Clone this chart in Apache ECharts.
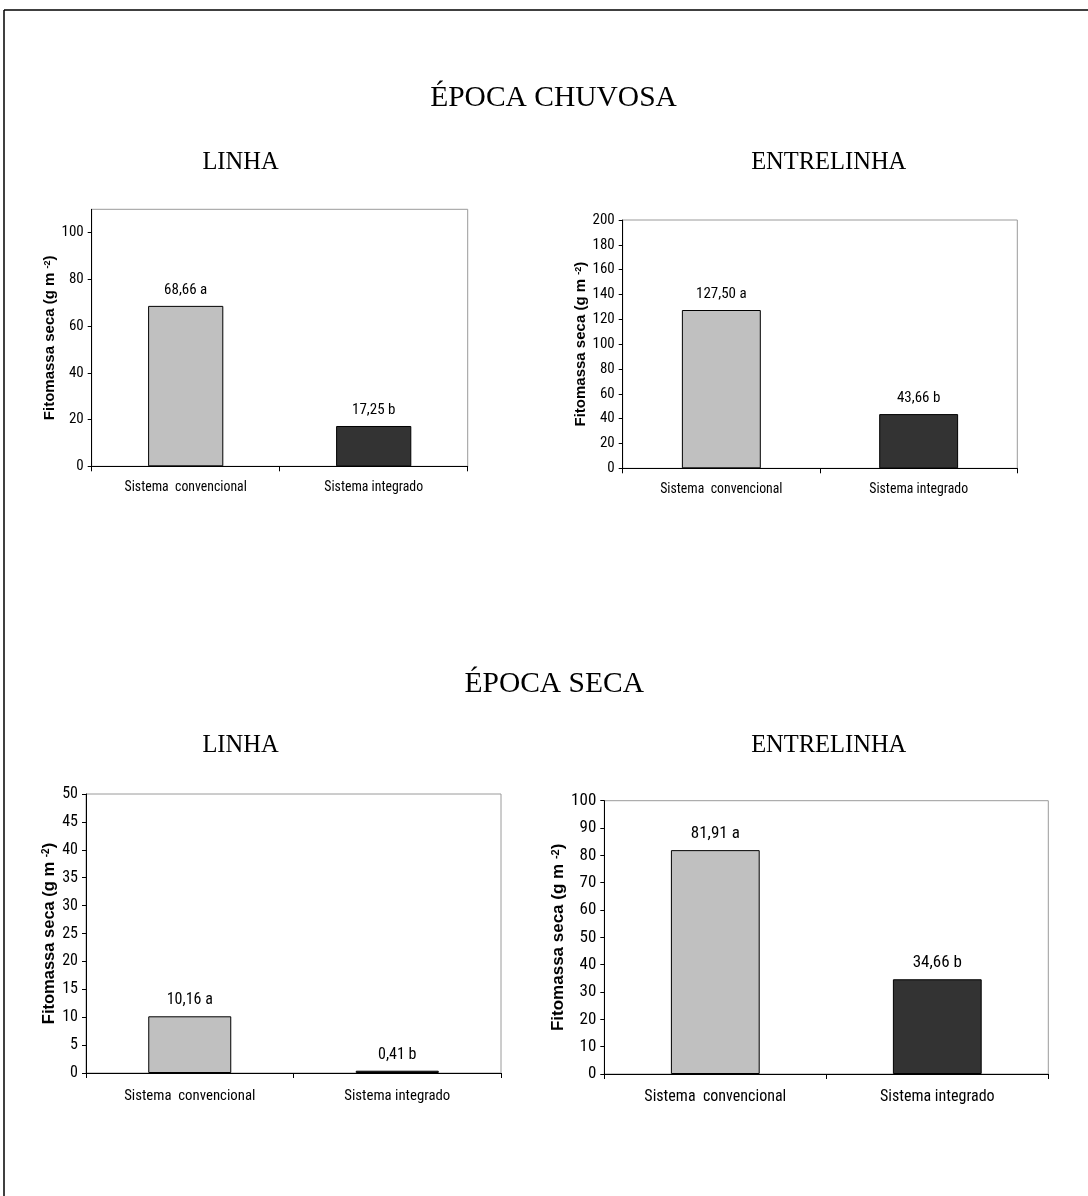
<!DOCTYPE html>
<html>
<head>
<meta charset="utf-8">
<script src="https://cdn.jsdelivr.net/npm/echarts@6/dist/echarts.min.js"></script>
<style>
html,body{margin:0;padding:0;background:#fff;}
#c{width:1088px;height:1196px;}
</style>
</head>
<body>
<div id="c"></div>
<script>
// ---- data ----
const categories = ['Sistema  convencional', 'Sistema integrado'];
const letters = ['a', 'b'];
const chuvosaLinha = [68.66, 17.25];
const chuvosaEntrelinha = [127.50, 43.66];
const secaLinha = [10.16, 0.41];
const secaEntrelinha = [81.91, 34.66];
const ticksChuvosaLinha = [0, 20, 40, 60, 80, 100];
const ticksChuvosaEntrelinha = [0, 20, 40, 60, 80, 100, 120, 140, 160, 180, 200];
const ticksSecaLinha = [0, 5, 10, 15, 20, 25, 30, 35, 40, 45, 50];
const ticksSecaEntrelinha = [0, 10, 20, 30, 40, 50, 60, 70, 80, 90, 100];
const titles = ['ÉPOCA CHUVOSA', 'ÉPOCA SECA'];
const subtitles = ['LINHA', 'ENTRELINHA'];
const yName = ['Fitomassa seca (g m ', '-2', ')'];

// ---- layout / style ----
const NARROW = "'Liberation Sans Narrow', 'Arial Narrow', 'Roboto Condensed', sans-serif";
const SANS = "'Liberation Sans', Arial, sans-serif";
const SERIF = "'Liberation Serif', 'Times New Roman', serif";
const barColors = ['#c0c0c0', '#333333'];

const panels = [
  {values: chuvosaLinha, ticks: ticksChuvosaLinha, max: 110,
   grid: {left: 91.7, top: 209.3, width: 376, height: 257}, fs: 15, cfs: 13.8, nfs: 15, nameGap: 32, lblMargin: 14},
  {values: chuvosaEntrelinha, ticks: ticksChuvosaEntrelinha, max: 200,
   grid: {left: 622.7, top: 220, width: 394.6, height: 248.3}, fs: 15, cfs: 13.8, nfs: 15, nameGap: 34, lblMargin: 14},
  {values: secaLinha, ticks: ticksSecaLinha, max: 50,
   grid: {left: 86, top: 794, width: 415, height: 279}, fs: 16, cfs: 14.8, nfs: 16.5, nameGap: 27, lblMargin: 16},
  {values: secaEntrelinha, ticks: ticksSecaEntrelinha, max: 100,
   grid: {left: 604.3, top: 800.7, width: 444, height: 273.3}, fs: 17, cfs: 16, nfs: 17, nameGap: 37, lblMargin: 15}
];

const grids = [], xAxes = [], yAxes = [], series = [];
panels.forEach((p, i) => {
  grids.push(Object.assign({show: true, borderColor: '#9a9a9a', borderWidth: 1,
    backgroundColor: '#fff', containLabel: false, outerBoundsMode: 'none'}, p.grid));
  xAxes.push({
    type: 'category', gridIndex: i, data: categories, boundaryGap: true,
    axisLine: {show: true, lineStyle: {color: '#000', width: 1}},
    axisTick: {show: true, length: 5, lineStyle: {color: '#000'}},
    axisLabel: {color: '#000', fontFamily: NARROW, fontSize: p.cfs, margin: p.lblMargin},
    splitLine: {show: false}
  });
  yAxes.push({
    type: 'value', gridIndex: i, min: 0, max: p.max, interval: p.ticks[1] - p.ticks[0],
    axisLine: {show: true, lineStyle: {color: '#000', width: 1}},
    axisTick: {show: true, length: 4, lineStyle: {color: '#000'}, customValues: p.ticks},
    axisLabel: {color: '#000', fontFamily: NARROW, fontSize: p.fs, margin: 8, customValues: p.ticks},
    splitLine: {show: false},
    name: '{t|' + yName[0] + '}{s|' + yName[1] + '}{t|' + yName[2] + '}',
    nameLocation: 'middle', nameGap: p.nameGap,
    nameTextStyle: {
      rich: {
        t: {fontFamily: SANS, fontWeight: 'bold', fontSize: p.nfs, color: '#000'},
        s: {fontFamily: SANS, fontWeight: 'bold', fontSize: Math.round(p.nfs * 0.62), color: '#000', verticalAlign: 'top'}
      }
    }
  });
  series.push({
    type: 'bar', xAxisIndex: i, yAxisIndex: i, barWidth: '40%',
    data: p.values.map((v, j) => ({value: v, itemStyle: {color: barColors[j]}})),
    itemStyle: {borderColor: '#000', borderWidth: 1},
    label: {
      show: true, position: 'top', distance: 8, color: '#000',
      fontFamily: NARROW, fontSize: p.fs,
      formatter: (d) => d.value.toFixed(2).replace('.', ',') + ' ' + letters[d.dataIndex]
    },
    emphasis: {disabled: true}, animation: false
  });
});

const textEl = (txt, x, y, size) => ({
  type: 'text', x: x, y: y, silent: true,
  style: {text: txt, fill: '#000', font: size + 'px ' + SERIF, textAlign: 'center', textVerticalAlign: 'middle'}
});

const graphic = [
  {type: 'line', shape: {x1: 4, y1: 10, x2: 1088, y2: 10}, style: {stroke: '#000', lineWidth: 1.5}, silent: true},
  {type: 'line', shape: {x1: 4, y1: 10, x2: 4, y2: 1196}, style: {stroke: '#000', lineWidth: 1.5}, silent: true},
  textEl(titles[0], 553.5, 98, 29.5),
  textEl(subtitles[0], 240.5, 163, 24.5),
  textEl(subtitles[1], 828.7, 163, 24.5),
  textEl(titles[1], 554.2, 684, 29.5),
  textEl(subtitles[0], 240.5, 746, 24.5),
  textEl(subtitles[1], 828.7, 746, 24.5)
];

const chart = echarts.init(document.getElementById('c'), null, {renderer: 'canvas'});
chart.setOption({
  backgroundColor: '#fff',
  animation: false,
  grid: grids, xAxis: xAxes, yAxis: yAxes, series: series,
  graphic: graphic
});
</script>
</body>
</html>
